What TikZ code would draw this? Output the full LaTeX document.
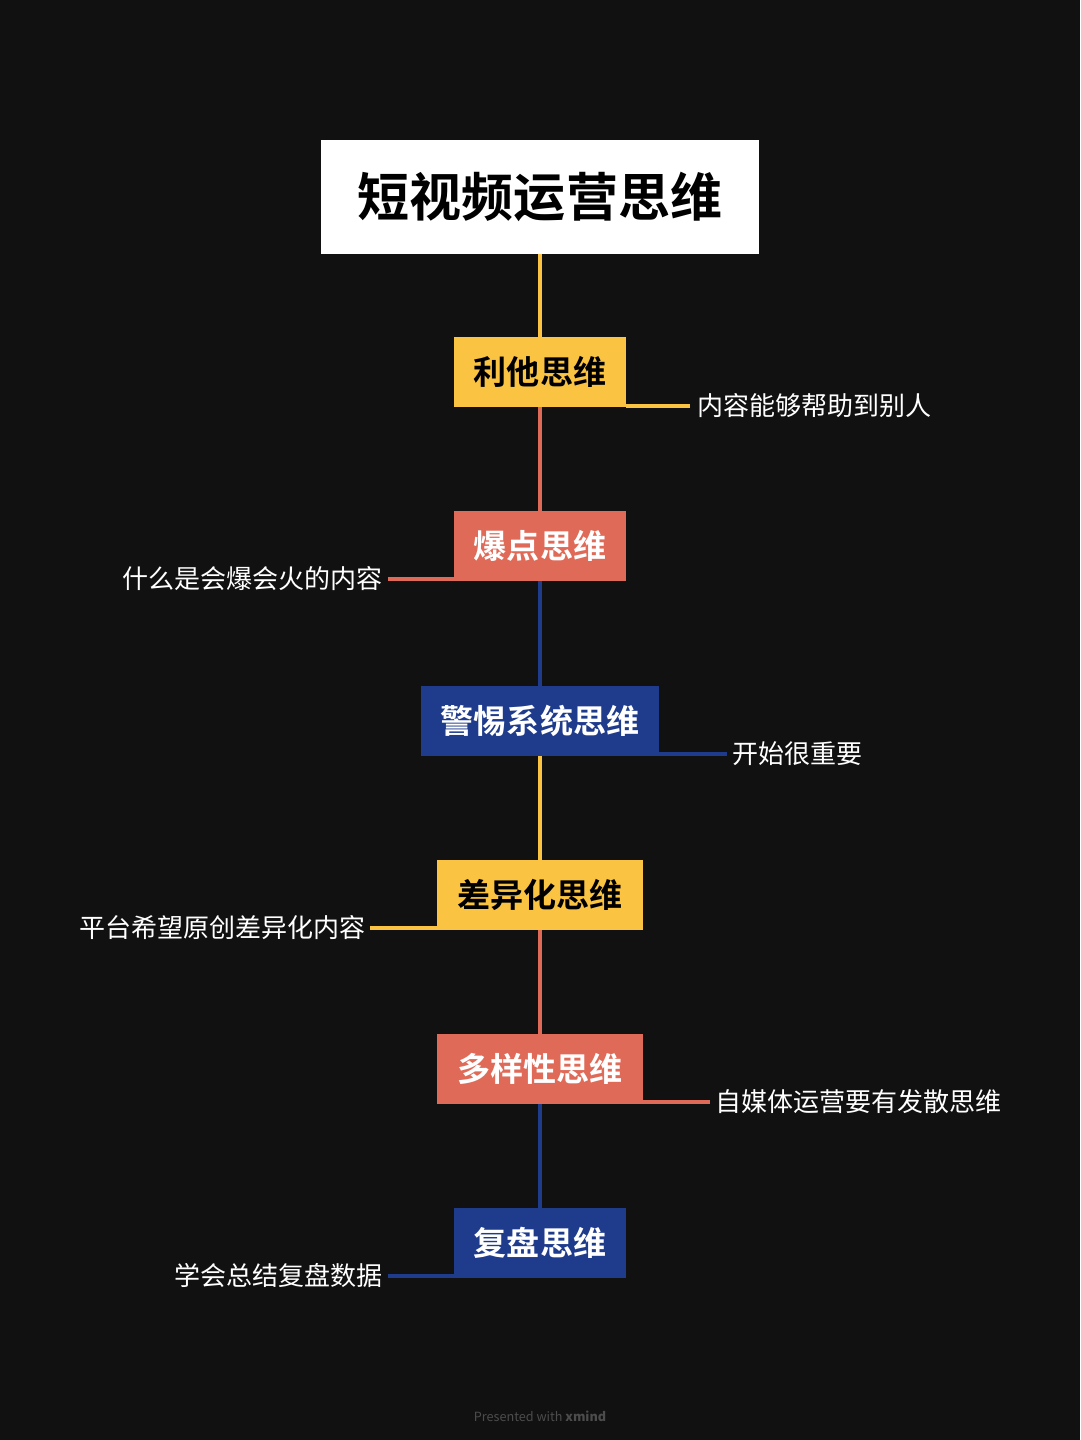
\documentclass[tikz,border=0pt]{standalone}
\usepackage{fontspec}
\setmainfont{Noto Sans CJK SC}
\newfontfamily\cjkbold{Noto Sans CJK SC Bold}
\usetikzlibrary{positioning}
\definecolor{bgdark}{HTML}{111111}
\definecolor{thinkyellow}{HTML}{FAC342}
\definecolor{thinkred}{HTML}{E06A58}
\definecolor{thinkblue}{HTML}{1E3B8C}
\begin{document}
\begin{tikzpicture}
    [x=0.025cm, y=-0.025cm,
    root_box/.style={fill=white, minimum width=438*0.025cm, minimum height=114*0.025cm, font=\cjkbold\fontsize{37}{40}\selectfont, text=black},
    think_box/.style={fill=#1, minimum height=70*0.025cm, inner xsep=0.5cm, font=\cjkbold\fontsize{23.5}{26}\selectfont},
    link/.style={line width=2.6pt, draw=#1},
    note/.style={font=\fontsize{18.5}{20}\selectfont, text=white, inner sep=0pt}]
    % 背景
    \fill[bgdark] (0, 0) rectangle (1080, 1440);
    % 主题
    \node[root_box] (root) at (540, 197) {短视频运营思维};
    \node[think_box=thinkyellow, text=black] (lita) at (540, 372) {利他思维};
    \node[think_box=thinkred, text=white] (baodian) at (540, 546) {爆点思维};
    \node[think_box=thinkblue, text=white] (jingti) at (540, 721) {警惕系统思维};
    \node[think_box=thinkyellow, text=black] (chayi) at (540, 895) {差异化思维};
    \node[think_box=thinkred, text=white] (duoyang) at (540, 1069) {多样性思维};
    \node[think_box=thinkblue, text=white] (fupan) at (540, 1243) {复盘思维};
    % 主干连线
    \draw[link=thinkyellow] (root.south) -- (lita.north);
    \draw[link=thinkred] (lita.south) -- (baodian.north);
    \draw[link=thinkblue] (baodian.south) -- (jingti.north);
    \draw[link=thinkyellow] (jingti.south) -- (chayi.north);
    \draw[link=thinkred] (chayi.south) -- (duoyang.north);
    \draw[link=thinkblue] (duoyang.south) -- (fupan.north);
    % 说明文字
    \coordinate (e1) at (690, 406);
    \node[note, anchor=west] (n1) at (697, 406) {内容能够帮助到别人};
    \draw[link=thinkyellow] (e1 -| lita.east) -- (e1);
    \coordinate (e2) at (388, 579);
    \node[note, anchor=east] (n2) at (383, 579) {什么是会爆会火的内容};
    \draw[link=thinkred] (e2 -| baodian.west) -- (e2);
    \coordinate (e3) at (727, 754);
    \node[note, anchor=west] (n3) at (732, 754) {开始很重要};
    \draw[link=thinkblue] (e3 -| jingti.east) -- (e3);
    \coordinate (e4) at (370, 928);
    \node[note, anchor=east] (n4) at (366, 928) {平台希望原创差异化内容};
    \draw[link=thinkyellow] (e4 -| chayi.west) -- (e4);
    \coordinate (e5) at (710, 1102);
    \node[note, anchor=west] (n5) at (715, 1102) {自媒体运营要有发散思维};
    \draw[link=thinkred] (e5 -| duoyang.east) -- (e5);
    \coordinate (e6) at (388, 1276);
    \node[note, anchor=east] (n6) at (383, 1276) {学会总结复盘数据};
    \draw[link=thinkblue] (e6 -| fupan.west) -- (e6);
    % 页脚
    \node[font=\fontsize{9}{10}\selectfont, text=white!25!bgdark] (footer) at (540, 1416) {Presented with \textbf{xmind}};
\end{tikzpicture}
\end{document}
